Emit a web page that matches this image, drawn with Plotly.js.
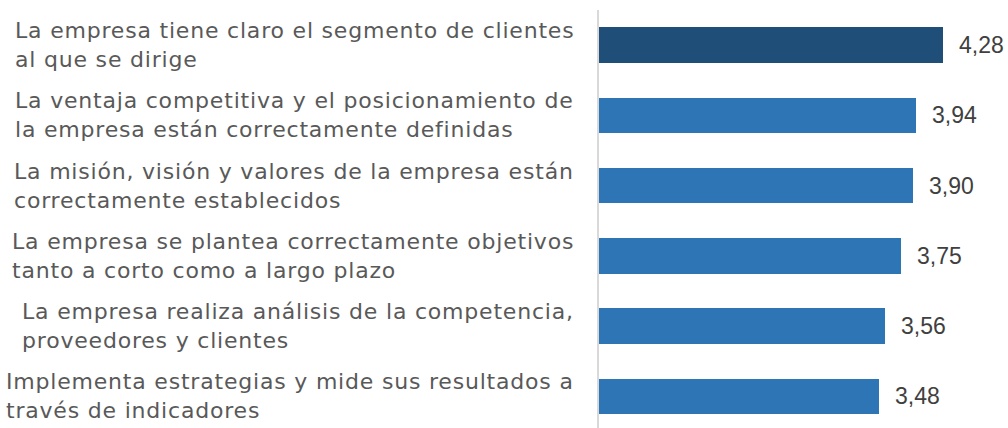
<!DOCTYPE html>
<html>
<head>
<meta charset="utf-8">
<script src="https://cdn.plot.ly/plotly-3.0.1.min.js"></script>
<style>
html,body{margin:0;padding:0;background:#fff;}
#chart{width:1008px;height:428px;}
text.annotation-text[style*="DejaVu"]{letter-spacing:0.8px;}
</style>
</head>
<body>
<div id="chart"></div>
<script>
var categories = [
  "La empresa tiene claro el segmento de clientes<br>al que se dirige",
  "La ventaja competitiva y el posicionamiento de<br>la empresa están correctamente definidas",
  "La misión, visión y valores de la empresa están<br>correctamente establecidos",
  "La empresa se plantea correctamente objetivos<br>tanto a corto como a largo plazo",
  "La empresa realiza análisis de la competencia,<br>proveedores y clientes",
  "Implementa estrategias y mide sus resultados a<br>través de indicadores"
];
var values = [4.28, 3.94, 3.90, 3.75, 3.56, 3.48];
var barColors = ["#1F4E79", "#2E75B6", "#2E75B6", "#2E75B6", "#2E75B6", "#2E75B6"];

var idx = categories.map(function(_, i){ return i; });

var trace = {
  type: "bar",
  orientation: "h",
  x: values,
  y: idx,
  width: 0.505,
  marker: {color: barColors, line: {width: 0}},
  hoverinfo: "x"
};

var annotations = [];
categories.forEach(function(c, i){
  annotations.push({
    xref: "paper", yref: "y", x: 0, y: i,
    xanchor: "right", yanchor: "middle", align: "left",
    xshift: -23, showarrow: false, text: c,
    font: {family: "DejaVu Sans", size: 22, color: "#595959"}
  });
});
values.forEach(function(v, i){
  annotations.push({
    xref: "x", yref: "y", x: v, y: i,
    xanchor: "left", yanchor: "middle",
    xshift: 14, showarrow: false,
    text: v.toFixed(2).replace(".", ","),
    font: {family: "Liberation Sans, Arial, sans-serif", size: 23, color: "#404040"}
  });
});

var layout = {
  width: 1008, height: 428,
  margin: {l: 599, r: 7, t: 10, b: 0},
  paper_bgcolor: "#fff", plot_bgcolor: "#fff",
  showlegend: false,
  bargap: 0,
  xaxis: {range: [0, 5], showgrid: false, zeroline: false, showticklabels: false, ticks: "", showline: false, fixedrange: true},
  yaxis: {range: [5.449, -0.5], showgrid: false, zeroline: false, showticklabels: false, ticks: "", showline: true, linecolor: "#D9D9D9", linewidth: 2, fixedrange: true},
  annotations: annotations
};

Plotly.newPlot("chart", [trace], layout, {displayModeBar: false, staticPlot: true});
</script>
</body>
</html>
